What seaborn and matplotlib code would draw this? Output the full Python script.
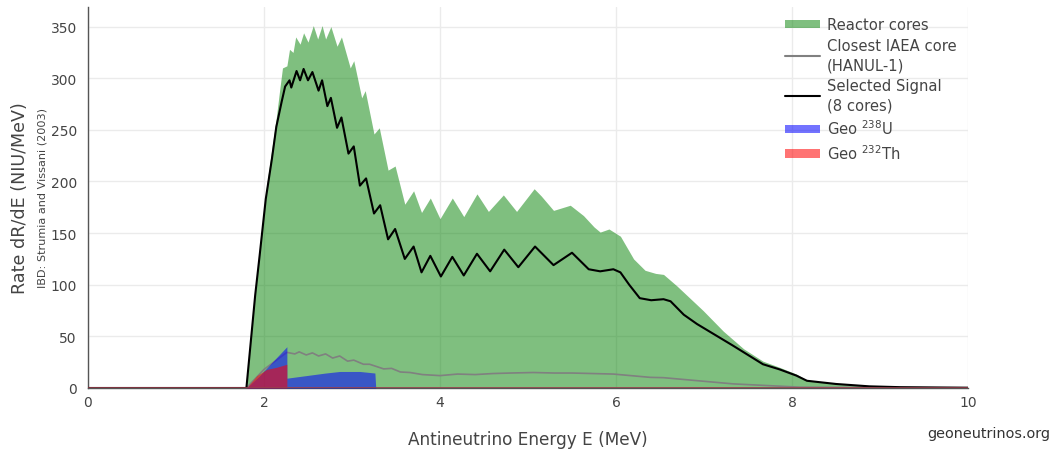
import numpy as np
import pandas as pd
import matplotlib
matplotlib.use("Agg")
import matplotlib.pyplot as plt
import seaborn as sns
from matplotlib.patches import Patch
from matplotlib.lines import Line2D

# ---------------- data ----------------
reactor_E = [0, 1.80, 1.85, 1.90, 1.95, 2.02, 2.09, 2.14, 2.18, 2.21, 2.26, 2.29, 2.33, 2.36,
             2.41, 2.45, 2.50, 2.56, 2.61, 2.66, 2.70, 2.76, 2.83, 2.88, 2.98, 3.02, 3.11,
             3.15, 3.25, 3.31, 3.41, 3.49, 3.60, 3.70, 3.79, 3.89, 4.00, 4.14, 4.27, 4.42,
             4.55, 4.72, 4.87, 5.07, 5.15, 5.29, 5.48, 5.63, 5.75, 5.82, 5.92, 6.05, 6.20,
             6.33, 6.45, 6.54, 6.69, 6.84, 6.99, 7.22, 7.45, 7.67, 7.86, 8.05, 8.17, 8.43,
             8.66, 9.11, 10.0]
reactor_R = [0, 0, 50, 95, 135, 190, 232, 262, 290, 310, 312, 328, 325, 340,
             333, 344, 335, 351, 338, 351, 338, 350, 331, 340, 310, 317, 281,
             288, 246, 252, 211, 215, 178, 191, 170, 184, 164, 184, 166, 188,
             171, 187, 171, 193, 186, 172, 177, 167, 156, 151, 154, 147, 125,
             114, 111, 110, 99, 87, 75, 55, 38, 26, 20, 13.5, 7.5, 5,
             3, 1.5, 0.6]

signal_E = [0, 1.80, 1.85, 1.90, 1.95, 2.02, 2.09, 2.14, 2.20, 2.24, 2.29, 2.31, 2.37, 2.41,
            2.45, 2.50, 2.55, 2.62, 2.66, 2.72, 2.76, 2.83, 2.88, 2.96, 3.02, 3.09, 3.16,
            3.25, 3.32, 3.41, 3.49, 3.60, 3.70, 3.79, 3.89, 4.01, 4.14, 4.27, 4.42, 4.57,
            4.73, 4.89, 5.08, 5.29, 5.50, 5.69, 5.82, 5.97, 6.05, 6.15, 6.27, 6.40, 6.54,
            6.62, 6.77, 6.92, 7.33, 7.67, 7.86, 8.05, 8.17, 8.50, 8.88, 9.23, 10.0]
signal_R = [0, 0, 45, 90, 128, 183, 222, 253, 277, 292, 298, 291, 307, 298,
            309, 298, 306, 288, 298, 273, 281, 252, 262, 227, 234, 196, 203,
            169, 177, 144, 154, 125, 137, 112, 128, 108, 127, 109, 130, 113,
            134, 117, 137, 119, 131, 115, 113, 115, 112, 100, 87, 85, 86,
            84, 71, 62, 41, 23, 18, 12, 7, 3.9, 1.6, 0.8, 0.3]

closest_E = [0, 1.80, 2.00, 2.26, 2.35, 2.40, 2.48, 2.55, 2.62, 2.70, 2.78, 2.86, 2.95, 3.02,
             3.13, 3.20, 3.36, 3.45, 3.55, 3.66, 3.80, 4.00, 4.20, 4.40, 4.60, 4.80, 5.06,
             5.30, 5.50, 5.97, 6.39, 6.54, 7.33, 8.09, 10.0]
closest_R = [0, 0, 18, 34.5, 33, 35, 32, 34, 31, 33, 29, 31, 26, 27,
             23, 23, 18.5, 19, 15.5, 15, 13, 12, 13.5, 13, 14, 14.5, 15,
             14.5, 14.5, 13.5, 10.3, 10, 4, 0.8, 0]

geoU_E = [0, 1.80, 1.95, 2.11, 2.26, 2.26, 2.48, 2.70, 2.86, 3.09, 3.26, 3.27, 10.0]
geoU_R = [0, 0, 12, 26.5, 40, 9.5, 12, 14.5, 16, 16, 14.5, 0, 0]

geoTh_E = [0, 1.80, 1.92, 2.03, 2.14, 2.26, 2.26, 10.0]
geoTh_R = [0, 0, 12, 18, 20, 23, 0, 0]

labels = ["Reactor cores", "Closest IAEA core\n(HANUL-1)", "Selected Signal\n(8 cores)",
          "Geo $^{238}$U", "Geo $^{232}$Th"]
x_ticks = [0, 2, 4, 6, 8, 10]
y_ticks = [0, 50, 100, 150, 200, 250, 300, 350]

# ---------------- plot ----------------
sns.set_style("white")
plt.rcParams['font.family'] = ['DejaVu Sans']

W, H = 1053, 456
fig = plt.figure(figsize=(W / 100, H / 100), dpi=100)
ax = fig.add_axes([88 / W, 1 - 389 / H, (968 - 88) / W, (389 - 8) / H])

green = (0.0, 0.5, 0.0, 0.5)
blue = (0.0, 0.0, 1.0, 0.55)
red = (1.0, 0.0, 0.0, 0.55)

reactor = pd.DataFrame({"E": reactor_E, "R": reactor_R})
signal = pd.DataFrame({"E": signal_E, "R": signal_R})
closest = pd.DataFrame({"E": closest_E, "R": closest_R})
geoU = pd.DataFrame({"E": geoU_E, "R": geoU_R})
geoTh = pd.DataFrame({"E": geoTh_E, "R": geoTh_R})

ax.fill_between(reactor["E"], 0, reactor["R"], color=green, linewidth=0, zorder=2)
sns.lineplot(data=closest, x="E", y="R", ax=ax, color="#808080", linewidth=1.2,
             sort=False, estimator=None, zorder=3)
sns.lineplot(data=signal, x="E", y="R", ax=ax, color="black", linewidth=1.5,
             sort=False, estimator=None, zorder=4)
ax.fill_between(geoU["E"], 0, geoU["R"], color=blue, linewidth=0, zorder=5)
ax.fill_between(geoTh["E"], 0, geoTh["R"], color=red, linewidth=0, zorder=6)
ax.plot([0, 10], [0, 0], color=(0.6, 0.25, 0.3), linewidth=1.2, zorder=7)

ax.set_xlim(0, 10)
ax.set_ylim(0, 369)
ax.set_xticks(x_ticks)
ax.set_yticks(y_ticks)
ax.set_xticklabels([str(t) for t in x_ticks])
ax.set_yticklabels([str(t) for t in y_ticks])
ax.grid(True, color="#ebebeb", linewidth=1.0, zorder=0)
ax.set_axisbelow(True)
ax.tick_params(axis="both", length=0, labelsize=10, colors="#444444")
ax.tick_params(axis="y", pad=8)
ax.tick_params(axis="x", pad=5)
for s in ["top", "right"]:
    ax.spines[s].set_visible(False)
for s in ["left", "bottom"]:
    ax.spines[s].set_color("#555555")
    ax.spines[s].set_linewidth(1.0)

ax.set_xlabel("")
ax.set_ylabel("")
fig.text(528 / W, 1 - 440 / H, "Antineutrino Energy E (MeV)", ha="center", va="center",
         fontsize=12.2, color="#444444")
fig.text(20 / W, 1 - 198 / H, "Rate dR/dE (NIU/MeV)", ha="center", va="center",
         rotation=90, fontsize=12.6, color="#444444")
fig.text(43 / W, 1 - 198 / H, "IBD: Strumia and Vissani (2003)", ha="center", va="center",
         rotation=90, fontsize=8.1, color="#444444")
fig.text(1050 / W, 1 - 434 / H, "geoneutrinos.org", ha="right", va="center",
         fontsize=10.4, color="#333333")

handles = [Patch(facecolor=green, edgecolor="none"),
           Line2D([0], [0], color="#808080", linewidth=1.5),
           Line2D([0], [0], color="black", linewidth=1.5),
           Patch(facecolor=blue, edgecolor="none"),
           Patch(facecolor=red, edgecolor="none")]
leg = fig.legend(handles, labels, loc="upper left", bbox_to_anchor=(785 / W, 1 - 18 / H),
                 frameon=False, fontsize=10.6, handlelength=2.35, handleheight=0.5,
                 handletextpad=0.5, labelspacing=0.42, borderaxespad=0, borderpad=0)
for t in leg.get_texts():
    t.set_color("#444444")
    t.set_linespacing(1.32)

fig.savefig("out.png", dpi=100)
